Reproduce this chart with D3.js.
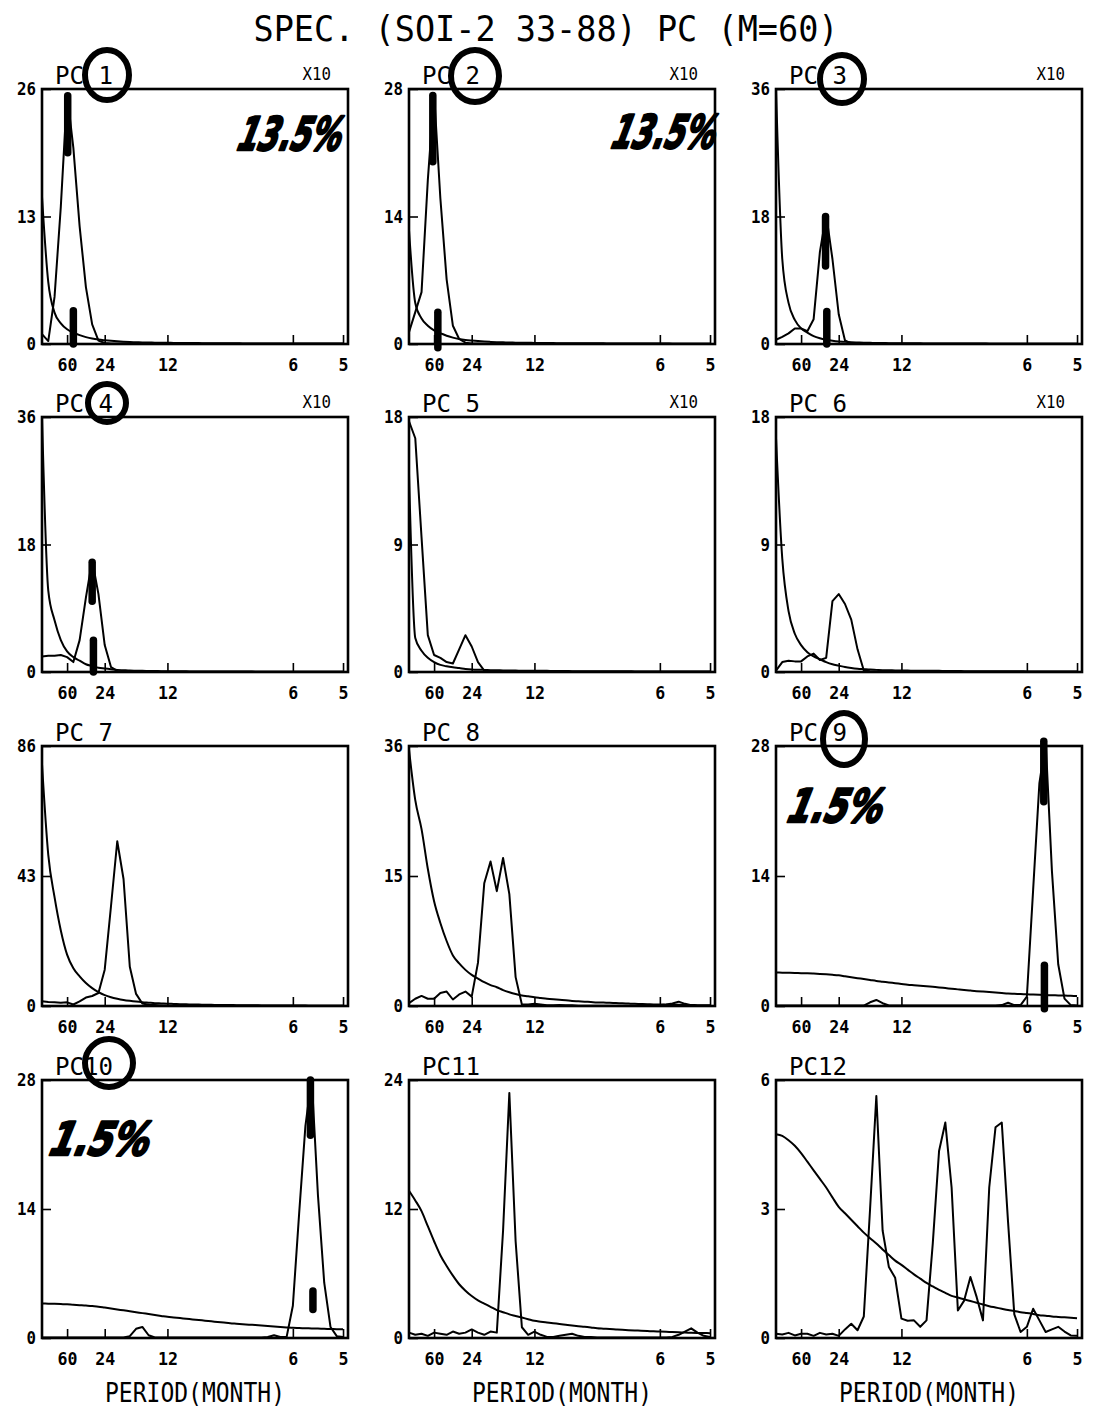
<!DOCTYPE html>
<html><head><meta charset="utf-8">
<script src="https://cdn.jsdelivr.net/npm/d3@7"></script>
<style>body{margin:0;background:#fff}</style>
</head><body>
<svg id="chart" width="1095" height="1408"></svg>
<script>
// ---------- DATA ----------
// spectral estimates on a grid of frequency k/240 cycles per month, k = 0..48
const periodTicks  = [60, 24, 12, 6, 5];
const periodLabels = ["60", "24", "12", "6", "5"];
const pcNames = ["PC 1","PC 2","PC 3","PC 4","PC 5","PC 6","PC 7","PC 8","PC 9","PC10","PC11","PC12"];
const yMax = [26, 28, 36, 36, 18, 18, 86, 36, 28, 28, 24, 6];
const yTickLabels = [
  ["0","13","26"],["0","14","28"],["0","18","36"],
  ["0","18","36"],["0","9","18"],["0","9","18"],
  ["0","43","86"],["0","15","36"],["0","14","28"],
  ["0","14","28"],["0","12","24"],["0","3","6"]
];
const scaleNotes = ["X10","X10","X10","X10","X10","X10","","","","","",""];

const S1 = [1.0,0.3,4.8,14,25.5,20,12,5.8,2.0,0.35, 0.1,0.06,0.05,0.04,0.04,0.03,0.03,0.03,0.03,0.03,
  0.02,0.02,0.02,0.02,0.02,0.02,0.02,0.02,0.02,0.02, 0.02,0.02,0.02,0.02,0.02,0.02,0.02,0.02,0.02,0.02, 0.02,0.02,0.02,0.02,0.02,0.02,0.02,0.02,0.02];
const B1 = [15,6.3,3.2,2.1,1.5,1.15,0.9,0.7,0.55,0.45, 0.38,0.32,0.27,0.23,0.2,0.18,0.16,0.15,0.14,0.13,
  0.12,0.11,0.1,0.1,0.09,0.09,0.08,0.08,0.08,0.07, 0.07,0.07,0.06,0.06,0.06,0.06,0.05,0.05,0.05,0.05, 0.05,0.05,0.04,0.04,0.04,0.04,0.04,0.04,0.04];

const S2 = [1.3,3.5,5.7,18,27.5,16,7.1,2.0,0.55,0.15, 0.06,0.05,0.04,0.04,0.03,0.03,0.03,0.03,0.03,0.03,
  0.02,0.02,0.02,0.02,0.02,0.02,0.02,0.02,0.02,0.02, 0.02,0.02,0.02,0.02,0.02,0.02,0.02,0.02,0.02,0.02, 0.02,0.02,0.02,0.02,0.02,0.02,0.02,0.02,0.02];
const B2 = [12.5,4.5,2.8,2.0,1.5,1.2,0.9,0.7,0.55,0.45, 0.38,0.32,0.27,0.23,0.2,0.18,0.16,0.15,0.14,0.13,
  0.12,0.11,0.1,0.1,0.09,0.09,0.08,0.08,0.08,0.07, 0.07,0.07,0.06,0.06,0.06,0.06,0.05,0.05,0.05,0.05, 0.05,0.05,0.04,0.04,0.04,0.04,0.04,0.04,0.04];

const S3 = [0.6,1.0,1.5,2.2,2.2,1.8,3.5,13,18.3,12, 4.2,0.5,0.1,0.05,0.04,0.03,0.03,0.03,0.03,0.03,
  0.02,0.02,0.02,0.02,0.02,0.02,0.02,0.02,0.02,0.02, 0.02,0.02,0.02,0.02,0.02,0.02,0.02,0.02,0.02,0.02, 0.02,0.02,0.02,0.02,0.02,0.02,0.02,0.02,0.02];
const B3 = [36,12,5.8,3.4,2.2,1.6,1.1,0.8,0.6,0.45, 0.35,0.3,0.25,0.21,0.18,0.16,0.14,0.13,0.12,0.11,
  0.1,0.1,0.09,0.09,0.08,0.08,0.08,0.07,0.07,0.07, 0.06,0.06,0.06,0.06,0.05,0.05,0.05,0.05,0.05,0.05, 0.04,0.04,0.04,0.04,0.04,0.04,0.04,0.04,0.04];

const S4 = [2.2,2.3,2.3,2.4,2.1,1.4,4.5,10.5,15.8,11, 3.8,0.7,0.15,0.05,0.04,0.03,0.03,0.03,0.03,0.03,
  0.02,0.02,0.02,0.02,0.02,0.02,0.02,0.02,0.02,0.02, 0.02,0.02,0.02,0.02,0.02,0.02,0.02,0.02,0.02,0.02, 0.02,0.02,0.02,0.02,0.02,0.02,0.02,0.02,0.02];
const B4 = [36,11.5,7.3,4.5,2.9,2.1,1.6,1.1,0.85,0.6, 0.5,0.4,0.3,0.25,0.2,0.18,0.16,0.14,0.13,0.12,
  0.1,0.1,0.09,0.09,0.08,0.08,0.08,0.07,0.07,0.07, 0.06,0.06,0.06,0.06,0.05,0.05,0.05,0.05,0.05,0.05, 0.04,0.04,0.04,0.04,0.04,0.04,0.04,0.04,0.04];

const S5 = [17.7,16.5,9.5,2.6,1.2,1.0,0.7,0.6,1.6,2.6, 1.8,0.7,0.1,0.05,0.04,0.03,0.03,0.03,0.03,0.03,
  0.02,0.02,0.02,0.02,0.02,0.02,0.02,0.02,0.02,0.02, 0.02,0.02,0.02,0.02,0.02,0.02,0.02,0.02,0.02,0.02, 0.02,0.02,0.02,0.02,0.02,0.02,0.02,0.02,0.02];
const B5 = [14,2.4,1.5,1.0,0.7,0.5,0.4,0.33,0.28,0.22, 0.18,0.16,0.15,0.13,0.12,0.11,0.1,0.1,0.09,0.09,
  0.08,0.08,0.08,0.07,0.07,0.07,0.06,0.06,0.06,0.06, 0.05,0.05,0.05,0.05,0.05,0.05,0.04,0.04,0.04,0.04, 0.04,0.04,0.04,0.04,0.03,0.03,0.03,0.03,0.03];

const S6 = [0.1,0.7,0.8,0.75,0.75,1.1,1.3,0.85,1.0,5.0, 5.5,4.8,3.7,1.6,0.1,0.05,0.04,0.03,0.03,0.03,
  0.02,0.02,0.02,0.02,0.02,0.02,0.02,0.02,0.02,0.02, 0.02,0.02,0.02,0.02,0.02,0.02,0.02,0.02,0.02,0.02, 0.02,0.02,0.02,0.02,0.02,0.02,0.02,0.02,0.02];
const B6 = [16.5,8,4.3,2.7,1.9,1.4,1.1,0.9,0.7,0.55, 0.45,0.35,0.28,0.23,0.2,0.17,0.15,0.13,0.12,0.11,
  0.1,0.1,0.09,0.09,0.08,0.08,0.08,0.07,0.07,0.07, 0.06,0.06,0.06,0.06,0.05,0.05,0.05,0.05,0.05,0.05, 0.04,0.04,0.04,0.04,0.04,0.04,0.04,0.04,0.04];

const S7 = [1.6,1.3,1.2,1.1,1.2,0.5,1.5,2.8,3.3,4.3, 12,33,54.5,42,13,4,0.8,0.4,0.3,0.2,
  0.1,0.1,0.1,0.1,0.1,0.1,0.1,0.1,0.1,0.1, 0.1,0.1,0.1,0.1,0.1,0.1,0.1,0.1,0.1,0.1, 0.1,0.1,0.1,0.1,0.1,0.1,0.1,0.1,0.1];
const B7 = [80,50,36,25,17,12.5,9.8,7.6,5.9,4.6, 3.6,2.9,2.4,2.0,1.7,1.45,1.25,1.1,0.95,0.85,
  0.75,0.68,0.62,0.56,0.5,0.46,0.42,0.38,0.35,0.32, 0.3,0.28,0.26,0.24,0.22,0.2,0.19,0.18,0.17,0.16, 0.15,0.14,0.13,0.12,0.12,0.11,0.1,0.1,0.1];

const S8 = [0.4,1.0,1.4,1.0,1.0,1.8,2.0,0.9,1.6,2.0, 1.3,6,17,20,15.9,20.5,15.5,4,0.2,0.2,
  0.3,0.2,0.1,0.1,0.15,0.1,0.1,0.05,0.05,0.05, 0.05,0.05,0.05,0.05,0.05,0.05,0.05,0.05,0.05,0.05, 0.1,0.2,0.35,0.6,0.3,0.1,0.05,0.05,0.05];
const B8 = [35.5,28.5,24.5,19,14.5,11.5,9,7,5.9,5, 4.3,3.8,3.3,2.9,2.6,2.2,1.9,1.65,1.45,1.35,
  1.2,1.1,1.0,0.92,0.85,0.78,0.7,0.65,0.6,0.55, 0.5,0.47,0.45,0.41,0.38,0.34,0.3,0.28,0.25,0.22, 0.2,0.19,0.17,0.16,0.15,0.13,0.12,0.11,0.1];

const S9 = [0.05,0.05,0.05,0.05,0.05,0.05,0.05,0.05,0.05,0.05, 0.05,0.05,0.05,0.05,0.05,0.4,0.65,0.3,0.05,0.05,
  0.05,0.05,0.05,0.05,0.05,0.05,0.05,0.05,0.05,0.05, 0.05,0.05,0.05,0.05,0.05,0.05,0.1,0.35,0.1,0.1, 1.0,12.5,24,28.5,14.5,4.5,0.8,0.1,0.05];
const B9 = [3.6,3.59,3.58,3.56,3.54,3.52,3.49,3.45,3.41,3.36, 3.3,3.2,3.1,3.0,2.9,2.8,2.7,2.62,2.54,2.46,
  2.38,2.3,2.24,2.18,2.12,2.06,2.0,1.93,1.86,1.79, 1.72,1.66,1.6,1.55,1.5,1.45,1.4,1.35,1.32,1.29, 1.26,1.23,1.2,1.18,1.16,1.14,1.12,1.1,1.08];

const S10 = [0.05,0.05,0.05,0.05,0.05,0.05,0.05,0.05,0.05,0.05, 0.05,0.05,0.05,0.05,0.2,1.0,1.2,0.3,0.05,0.05,
  0.05,0.05,0.05,0.05,0.05,0.05,0.05,0.05,0.05,0.05, 0.05,0.05,0.05,0.05,0.05,0.05,0.1,0.3,0.1,0.1, 3.5,13.5,23,28.2,15.5,6.0,1.2,0.2,0.1];
const B10 = [3.75,3.73,3.71,3.68,3.65,3.6,3.56,3.52,3.46,3.4, 3.3,3.2,3.1,3.0,2.9,2.8,2.7,2.6,2.5,2.4,
  2.3,2.23,2.16,2.09,2.02,1.95,1.88,1.81,1.74,1.67, 1.6,1.55,1.5,1.45,1.4,1.35,1.3,1.25,1.2,1.15, 1.1,1.08,1.06,1.04,1.02,1.0,0.98,0.96,0.95];

const S11 = [0.5,0.3,0.4,0.2,0.5,0.4,0.3,0.6,0.4,0.5, 0.8,0.5,0.3,0.6,0.5,10,22.8,9,1.0,0.3,
  0.6,0.3,0.1,0.1,0.2,0.3,0.4,0.2,0.1,0.1, 0.05,0.05,0.05,0.05,0.05,0.05,0.05,0.05,0.05,0.05, 0.05,0.05,0.1,0.3,0.6,0.9,0.5,0.2,0.1];
const B11 = [13.7,12.8,11.8,10.4,9.0,7.7,6.7,5.8,5.0,4.4, 3.9,3.5,3.2,2.9,2.6,2.4,2.2,2.05,1.9,1.75,
  1.6,1.52,1.45,1.38,1.3,1.23,1.16,1.1,1.05,0.98, 0.9,0.87,0.84,0.8,0.76,0.73,0.7,0.68,0.65,0.62, 0.6,0.58,0.55,0.53,0.51,0.49,0.47,0.46,0.45];

const S12 = [0.1,0.08,0.12,0.06,0.1,0.1,0.05,0.12,0.08,0.1, 0.05,0.2,0.33,0.18,0.5,3.0,5.63,2.5,1.65,1.4,
  0.45,0.4,0.41,0.26,0.41,2.2,4.35,5.01,3.5,0.64, 0.87,1.42,0.95,0.41,3.5,4.9,5.01,2.7,0.55,0.14, 0.26,0.68,0.41,0.14,0.2,0.26,0.15,0.06,0.05];
const B12 = [4.74,4.7,4.6,4.47,4.3,4.1,3.9,3.7,3.5,3.27, 3.05,2.9,2.75,2.6,2.45,2.32,2.2,2.06,1.93,1.8,
  1.7,1.59,1.48,1.38,1.28,1.2,1.12,1.05,0.98,0.94, 0.9,0.86,0.82,0.78,0.74,0.71,0.68,0.65,0.63,0.6, 0.58,0.56,0.53,0.52,0.5,0.49,0.48,0.47,0.46];

const spectra = [S1,S2,S3,S4,S5,S6,S7,S8,S9,S10,S11,S12];
const backgrounds = [B1,B2,B3,B4,B5,B6,B7,B8,B9,B10,B11,B12];

// hand-drawn annotations on the original print
const circledPCs = [1, 2, 3, 4, 9, 10];
const handNotes = [{pc:1, text:"13.5%"}, {pc:2, text:"13.5%"}, {pc:9, text:"1.5%"}, {pc:10, text:"1.5%"}];
// thick ink strokes: pc, frequency index k, from value lo to value hi
const inkMarks = [
  {pc:1, k:4.1, lo:19.5, hi:25.3}, {pc:1, k:5.0, lo:0, hi:3.4},
  {pc:2, k:3.8, lo:20, hi:27.3},   {pc:2, k:4.6, lo:-0.4, hi:3.5},
  {pc:3, k:7.9, lo:11, hi:18},     {pc:3, k:8.1, lo:0, hi:4.6},
  {pc:4, k:8.0, lo:10, hi:15.5},   {pc:4, k:8.2, lo:0, hi:4.5},
  {pc:9, k:42.7, lo:22, hi:28.5},  {pc:9, k:42.8, lo:-0.3, hi:4.4},
  {pc:10, k:42.8, lo:22, hi:28},   {pc:10, k:43.2, lo:3.1, hi:5.1}
];

// ---------- LAYOUT ----------
const svg = d3.select("#chart");
const mono = "'DejaVu Sans Mono', monospace";
const colLeft = [42, 409, 776];
const rowTop = [89, 417, 746, 1080];
const rowH = [255, 255, 260, 258];
const panelW = 306;
const freqStep = 1 / 240;

function fit(sel, pitch) {
  sel.each(function () {
    const t = d3.select(this);
    t.attr("textLength", t.text().length * pitch).attr("lengthAdjust", "spacingAndGlyphs");
  });
}

svg.append("text")
  .attr("x", 546).attr("y", 41).attr("text-anchor", "middle")
  .attr("font-family", mono).attr("font-size", 36).attr("fill", "#000")
  .text("SPEC.  (SOI-2 33-88)  PC (M=60)")
  .attr("textLength", 585).attr("lengthAdjust", "spacingAndGlyphs");

const circleLayout = {1:[107,75,22,25], 2:[475,76,24,26], 3:[842,79,22,24], 4:[107,403,19,19], 9:[844,739,21,26], 10:[109,1063,24,24]};
const noteLayout = {1:[236,150,104], 2:[610,148,104], 9:[786,822,95], 10:[48,1155,100]};

spectra.forEach((spec, i) => {
  const col = i % 3, row = Math.floor(i / 3);
  const left = colLeft[col], top = rowTop[row], h = rowH[row];
  const g = svg.append("g").attr("transform", `translate(${left},${top})`);
  const x = d3.scaleLinear().domain([0, 0.2033]).range([0, panelW]);
  const y = d3.scaleLinear().domain([0, yMax[i]]).range([h, 0]);

  // axes
  g.append("g").attr("transform", `translate(0,${h})`)
    .call(d3.axisBottom(x).tickValues(periodTicks.map(p => 1 / p))
      .tickFormat((d, j) => periodLabels[j]).tickSizeInner(-9).tickSizeOuter(0).tickPadding(14))
    .call(a => a.select(".domain").remove())
    .call(a => a.selectAll("line").attr("stroke", "#000").attr("stroke-width", 1.6))
    .call(a => a.selectAll("text").attr("font-family", mono).attr("font-weight", "bold")
      .attr("font-size", 18).attr("fill", "#000").call(fit, 10));

  g.append("g")
    .call(d3.axisLeft(y).tickValues([0, yMax[i] / 2, yMax[i]])
      .tickFormat((d, j) => yTickLabels[i][j]).tickSizeInner(-9).tickSizeOuter(0).tickPadding(6))
    .call(a => a.select(".domain").remove())
    .call(a => a.selectAll("line").attr("stroke", "#000").attr("stroke-width", 1.6))
    .call(a => a.selectAll("text").attr("font-family", mono).attr("font-weight", "bold")
      .attr("font-size", 18).attr("fill", "#000").call(fit, 9.5));

  // frame
  g.append("rect").attr("width", panelW).attr("height", h)
    .attr("fill", "none").attr("stroke", "#000").attr("stroke-width", 2.6);

  // background (red-noise) curve and spectrum
  const bgLine = d3.line().x((d, k) => x(k * freqStep)).y(d => y(d)).curve(d3.curveMonotoneX);
  const spLine = d3.line().x((d, k) => x(k * freqStep)).y(d => y(d)).curve(d3.curveLinear);
  g.append("path").datum(backgrounds[i]).attr("d", bgLine)
    .attr("fill", "none").attr("stroke", "#000").attr("stroke-width", 2);
  g.append("path").datum(spec).attr("d", spLine)
    .attr("fill", "none").attr("stroke", "#000").attr("stroke-width", 2).attr("stroke-linejoin", "round");

  // ink marks
  inkMarks.filter(m => m.pc === i + 1).forEach(m => {
    g.append("line").attr("x1", x(m.k * freqStep)).attr("x2", x(m.k * freqStep))
      .attr("y1", y(m.lo)).attr("y2", y(m.hi))
      .attr("stroke", "#000").attr("stroke-width", 7.5).attr("stroke-linecap", "round");
  });

  // panel labels
  svg.append("text").attr("x", left + 13).attr("y", top - 5)
    .attr("font-family", mono).attr("font-size", 24).attr("fill", "#000")
    .text(pcNames[i]).call(fit, 14.5);
  if (scaleNotes[i]) {
    svg.append("text").attr("x", left + panelW - 17).attr("y", top - 9).attr("text-anchor", "end")
      .attr("font-family", mono).attr("font-size", 17).attr("fill", "#000")
      .text(scaleNotes[i]).call(fit, 9.5);
  }
  if (row === 3) {
    svg.append("text").attr("x", left + panelW / 2).attr("y", 1402).attr("text-anchor", "middle")
      .attr("font-family", mono).attr("font-size", 26).attr("fill", "#000")
      .text("PERIOD(MONTH)").attr("textLength", 180).attr("lengthAdjust", "spacingAndGlyphs");
  }
});

// circles around PC numbers
circledPCs.forEach(pc => {
  const [cx, cy, rx, ry] = circleLayout[pc];
  svg.append("ellipse").attr("cx", cx).attr("cy", cy).attr("rx", rx).attr("ry", ry)
    .attr("fill", "none").attr("stroke", "#000").attr("stroke-width", 6);
});

// handwritten percentages
handNotes.forEach(n => {
  const [hx, hy, w] = noteLayout[n.pc];
  svg.append("text").attr("transform", `translate(${hx},${hy}) skewX(-14)`)
    .attr("font-family", "'DejaVu Sans', sans-serif").attr("font-weight", "bold").attr("font-style", "italic")
    .attr("font-size", 46).attr("fill", "#000").attr("stroke", "#000").attr("stroke-width", 2.5)
    .attr("stroke-linejoin", "round")
    .text(n.text).attr("textLength", w).attr("lengthAdjust", "spacingAndGlyphs");
});
</script>
</body></html>
